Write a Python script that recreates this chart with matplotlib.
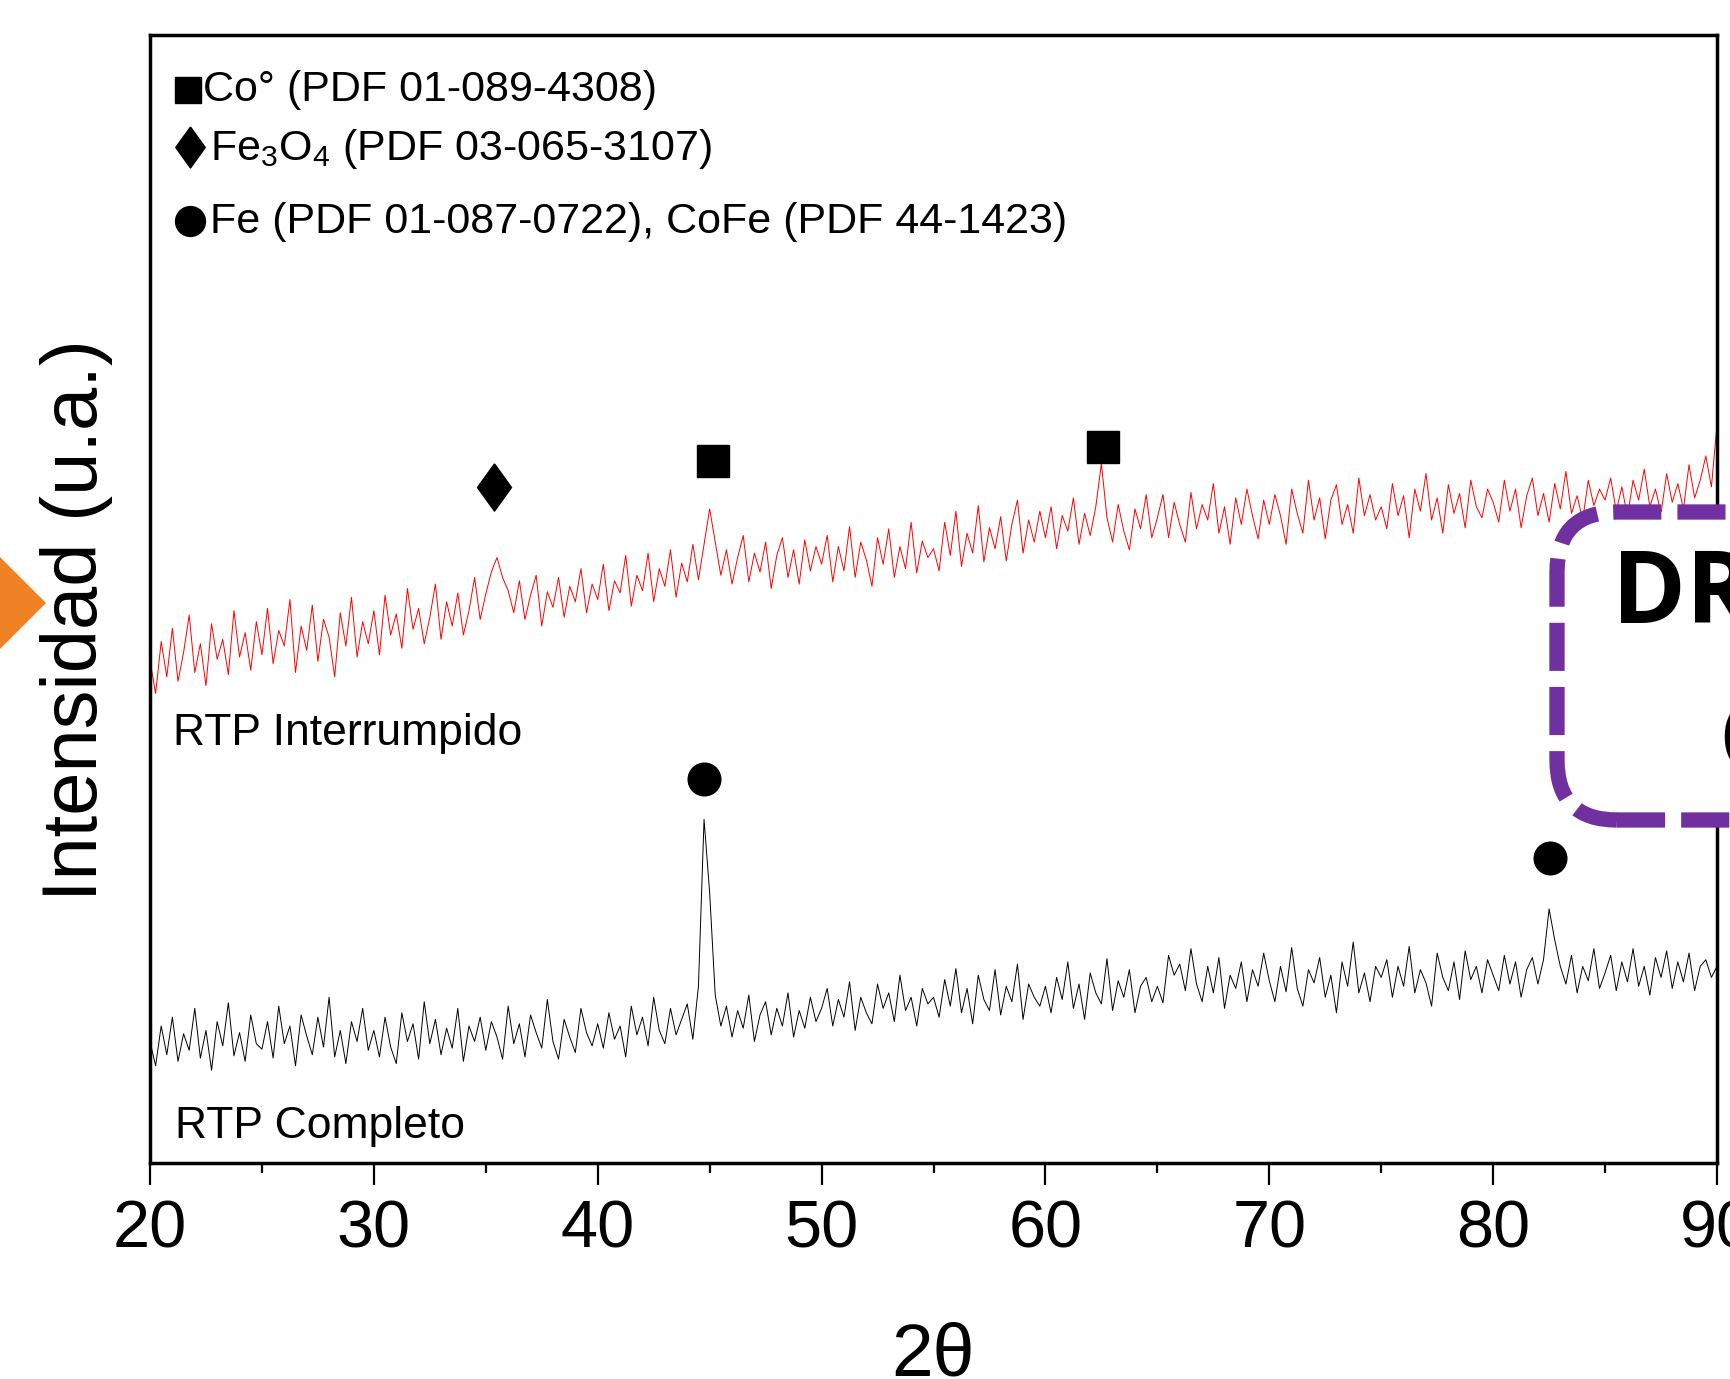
import numpy as np
import matplotlib.pyplot as plt
from matplotlib.patches import FancyBboxPatch, Polygon
from matplotlib.transforms import IdentityTransform

plt.rcParams['font.family'] = ['Liberation Sans', 'DejaVu Sans']
plt.rcParams['mathtext.default'] = 'regular'

# --------------------------------------------------------------------------- #
# data (2theta step 0.25, intensity in arbitrary units)

two_theta = np.linspace(20, 90, 281)

interrumpido = [
    455, 425, 472, 440, 484, 436, 462, 496, 444, 470, 432, 488, 456, 474, 442, 500, 458, 480, 446, 490,
    460, 502, 452, 482, 468, 510, 444, 486, 464, 505, 454, 492, 476, 440, 498, 468, 512, 458, 490, 470,
    500, 460, 514, 478, 497, 466, 520, 483, 502, 470, 494, 524, 474, 508, 486, 516, 478, 500, 530, 492,
    515, 535, 548, 530, 518, 498, 527, 492, 514, 532, 486, 517, 503, 530, 494, 522, 508, 538, 498, 524,
    510, 542, 500, 527, 516, 550, 504, 532, 518, 552, 508, 538, 522, 555, 512, 543, 526, 560, 528, 560,
    592, 562, 532, 555, 524, 548, 568, 526, 552, 535, 562, 520, 550, 566, 530, 555, 524, 564, 536, 558,
    542, 568, 526, 558, 536, 576, 530, 562, 546, 522, 566, 542, 574, 530, 558, 538, 580, 534, 563, 548,
    556, 536, 580, 550, 590, 540, 570, 552, 595, 544, 575, 556, 585, 545, 578, 600, 552, 582, 562, 590,
    566, 594, 556, 586, 572, 602, 560, 588, 568, 594, 633, 584, 562, 596, 572, 555, 592, 574, 605, 566,
    584, 605, 566, 598, 578, 562, 607, 574, 596, 582, 615, 570, 594, 560, 602, 578, 610, 586, 565, 600,
    578, 605, 586, 560, 610, 588, 570, 618, 582, 602, 565, 600, 614, 578, 596, 570, 620, 586, 605, 582,
    594, 574, 615, 586, 604, 566, 610, 590, 624, 582, 602, 570, 614, 588, 606, 575, 618, 594, 584, 610,
    598, 580, 618, 590, 610, 575, 604, 620, 586, 606, 580, 615, 592, 626, 588, 604, 582, 618, 595, 610,
    600, 620, 590, 612, 585, 618, 600, 628, 594, 610, 588, 624, 598, 615, 592, 632, 602, 618, 640, 612,
    668,
]

completo = [
    110, 88, 124, 98, 132, 92, 117, 102, 140, 95, 120, 84, 128, 106, 145, 97, 118, 92, 134, 108,
    103, 128, 95, 142, 108, 124, 88, 134, 115, 98, 132, 105, 150, 96, 120, 90, 128, 110, 140, 102,
    120, 96, 132, 105, 90, 136, 110, 126, 94, 146, 108, 130, 98, 122, 104, 140, 92, 124, 110, 132,
    102, 128, 114, 94, 142, 108, 126, 96, 134, 118, 104, 148, 110, 94, 130, 114, 100, 140, 118, 106,
    126, 104, 136, 112, 124, 96, 142, 116, 132, 106, 150, 120, 108, 140, 116, 130, 144, 112, 160, 311,
    245, 152, 124, 142, 114, 138, 122, 152, 110, 134, 146, 116, 140, 124, 154, 114, 138, 122, 150, 128,
    140, 158, 124, 148, 132, 164, 120, 150, 136, 126, 162, 140, 154, 128, 170, 138, 150, 124, 158, 144,
    150, 132, 166, 142, 176, 136, 158, 126, 170, 148, 138, 175, 134, 160, 146, 180, 130, 162, 150, 142,
    160, 136, 168, 148, 182, 140, 162, 130, 172, 154, 144, 185, 138, 165, 150, 175, 136, 160, 168, 146,
    160, 145, 188, 170, 180, 156, 194, 162, 146, 178, 154, 186, 140, 170, 158, 182, 146, 175, 160, 190,
    165, 146, 178, 155, 195, 158, 142, 175, 163, 186, 150, 170, 136, 182, 160, 200, 154, 172, 146, 178,
    168, 184, 150, 178, 160, 196, 154, 175, 163, 142, 190, 168, 156, 182, 148, 192, 166, 178, 154, 184,
    170, 156, 188, 162, 182, 150, 175, 186, 162, 184, 230, 202, 178, 162, 188, 154, 178, 165, 194, 158,
    172, 188, 156, 182, 164, 194, 160, 178, 152, 186, 168, 192, 158, 182, 164, 190, 156, 178, 184, 168,
    178,
]

major_ticks = [20, 30, 40, 50, 60, 70, 80, 90]
minor_ticks = [25, 35, 45, 55, 65, 75, 85]

fases = ['Co° (PDF 01-089-4308)',
         'Fe$_3$O$_4$ (PDF 03-065-3107)',
         'Fe (PDF 01-087-0722), CoFe (PDF 44-1423)']

# phase markers above the peaks
co_x, co_y = [45.14, 62.59], [635, 648]
fe3o4_x, fe3o4_y = [35.38], [612]
fe_x, fe_y = [44.73, 82.53], [348, 276]

# =========================================================================== #

W, H = 1730, 1379
fig = plt.figure(figsize=(W / 100, H / 100), dpi=100)
ax = fig.add_axes([150 / W, 1 - 1163 / H, 1567 / W, 1128 / H])

ax.plot(two_theta, interrumpido, color='#ff0000', lw=0.7)
ax.plot(two_theta, completo, color='black', lw=0.7)

diamond = [(0, 1), (0.72, 0), (0, -1), (-0.72, 0), (0, 1)]
ax.plot(co_x, co_y, 's', color='black', ms=23)
ax.plot(fe3o4_x, fe3o4_y, marker=diamond, ls='none', color='black', ms=34)
ax.plot(fe_x, fe_y, 'o', color='black', ms=23.5)

# legend written as text block
leg_y = [0.951, 0.899, 0.834]
ax.plot(0.0243, leg_y[0], 's', color='black', ms=19, transform=ax.transAxes, clip_on=False)
ax.plot(0.0255, leg_y[1] + 0.002, marker=diamond, color='black', ms=29.5, transform=ax.transAxes, clip_on=False)
ax.plot(0.0258, leg_y[2] + 0.001, 'o', color='black', ms=21.5, transform=ax.transAxes, clip_on=False)
ax.text(0.0341, leg_y[0], fases[0], fontsize=31, va='center', transform=ax.transAxes)
ax.text(0.0386, leg_y[1], fases[1], fontsize=31, va='center', transform=ax.transAxes)
ax.text(0.0386, leg_y[2], fases[2], fontsize=31, va='center', transform=ax.transAxes)

ax.text(0.0144, 0.381, 'RTP Interrumpido', fontsize=32, va='center', transform=ax.transAxes)
ax.text(0.0158, 0.032, 'RTP Completo', fontsize=32, va='center', transform=ax.transAxes)

ax.set_xlim(20, 90)
ax.set_ylim(0, 1021)
ax.set_xticks(major_ticks)
ax.set_xticks(minor_ticks, minor=True)
ax.set_yticks([])
ax.tick_params(axis='x', which='major', direction='out', length=16, width=1.6, labelsize=48, pad=10)
ax.tick_params(axis='x', which='minor', direction='out', length=7.5, width=1.6)
for s in ax.spines.values():
    s.set_linewidth(2.5)

fig.text(77 / W, 1 - 620 / H, 'Intensidad (u.a.)', rotation=90, fontsize=56, ha='center', va='center')
fig.text(933 / W, 4 / H, '2θ', fontsize=54, ha='center', va='baseline')

# slide decorations around the chart
tri = Polygon([(-30, 852), (46, 776), (-30, 700)], closed=True, transform=IdentityTransform(),
              fc='#F08124', ec='none')
fig.add_artist(tri)

box = FancyBboxPatch((1557, 559), 400, 308, boxstyle='round,pad=0,rounding_size=60',
                     transform=IdentityTransform(), ec='#7030A0', fc='white', lw=11,
                     ls=(0, (3.15, 1.05)), zorder=5)
fig.add_artist(box)
fig.text(1612 / W, 1 - 623 / H, 'DRX', fontsize=72, fontweight='bold', family='Open Sans', va='baseline', zorder=6)
fig.text(1718 / W, 1 - 772 / H, 'C', fontsize=72, fontweight='bold', family='Open Sans', va='baseline', zorder=6)

fig.savefig('out.png', dpi=100)
